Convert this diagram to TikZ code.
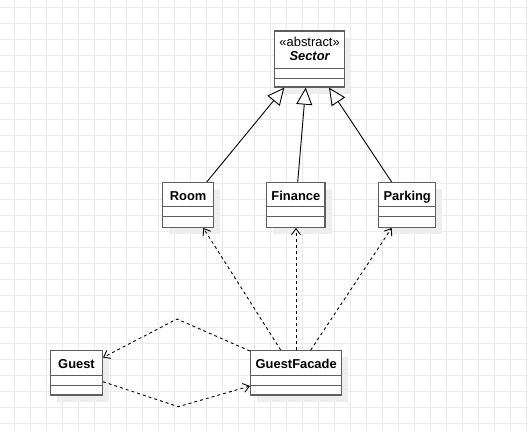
\documentclass[tikz,border=0pt]{standalone}
\usepackage{fontspec}
\setmainfont{Liberation Sans}
\usetikzlibrary{arrows.meta,shadows}
\definecolor{gridc}{HTML}{EBEBEB}
\definecolor{boxc}{HTML}{5E5E5E}
\definecolor{shadc}{HTML}{EEEEEE}
\tikzset{
  classbox/.style={draw=boxc, line width=1.3pt, fill=white, inner sep=0pt,
    drop shadow={shadow xshift=6.5pt, shadow yshift=-6.5pt, fill=shadc, opacity=1}},
  divline/.style={draw=boxc, line width=1.3pt},
  lbl/.style={inner sep=0pt, font=\fontsize{12.9}{15}\selectfont},
  blbl/.style={inner sep=0pt, font=\fontsize{12.9}{15}\selectfont\bfseries},
  inh/.style={draw=black, line width=0.9pt, -{Triangle[length=17pt,width=16pt,fill=white,line width=0.9pt]}},
  dep/.style={draw=black, line width=0.9pt, dash pattern=on 3pt off 3pt, -{Straight Barb[length=6pt,width=9pt,line width=0.9pt]}},
  gridline/.style={draw=gridc, line width=1pt}
}
\begin{document}
\begin{tikzpicture}[x=1pt,y=-1pt]
\useasboundingbox (0,0) rectangle (528,431);
\fill[white] (0,0) rectangle (528,431);
\foreach \gx in {14,30,...,526} \draw[gridline] (\gx,0) -- (\gx,431);
\foreach \gy in {7,23,...,423} \draw[gridline] (0,\gy) -- (528,\gy);

% Sector
\node[classbox, minimum width=70.2pt, minimum height=56pt] (sector) at (309.6,59) {};
\draw[divline] ([yshift=-38pt]sector.north west) -- ([yshift=-38pt]sector.north east);
\draw[divline] ([yshift=-48pt]sector.north west) -- ([yshift=-48pt]sector.north east);
\node[lbl, anchor=base] (sectorst) at (309.6,46.7) {«abstract»};
\node[inner sep=0pt, font=\fontsize{12.9}{15}\selectfont\bfseries\itshape, anchor=base] (sectort) at (309.6,60.6) {Sector};

% Room
\node[classbox, minimum width=51.2pt, minimum height=44.6pt] (room) at (188.1,205) {};
\draw[divline] ([yshift=-24.7pt]room.north west) -- ([yshift=-24.7pt]room.north east);
\draw[divline] ([yshift=-34.7pt]room.north west) -- ([yshift=-34.7pt]room.north east);
\node[blbl, anchor=base] (roomt) at (188.1,200) {Room};

% Finance
\node[classbox, minimum width=58.3pt, minimum height=44.6pt] (finance) at (295.85,205) {};
\draw[divline] ([yshift=-24.7pt]finance.north west) -- ([yshift=-24.7pt]finance.north east);
\draw[divline] ([yshift=-34.7pt]finance.north west) -- ([yshift=-34.7pt]finance.north east);
\node[blbl, anchor=base] (financet) at (295.85,200) {Finance};

% Parking
\node[classbox, minimum width=57pt, minimum height=44.6pt] (parking) at (407.2,205) {};
\draw[divline] ([yshift=-24.7pt]parking.north west) -- ([yshift=-24.7pt]parking.north east);
\draw[divline] ([yshift=-34.7pt]parking.north west) -- ([yshift=-34.7pt]parking.north east);
\node[blbl, anchor=base] (parkingt) at (407.2,200) {Parking};

% Guest
\node[classbox, minimum width=51.6pt, minimum height=44.3pt] (guest) at (76.5,372.85) {};
\draw[divline] ([yshift=-25.2pt]guest.north west) -- ([yshift=-25.2pt]guest.north east);
\draw[divline] ([yshift=-35.2pt]guest.north west) -- ([yshift=-35.2pt]guest.north east);
\node[blbl, anchor=base] (guestt) at (76.5,368.4) {Guest};

% GuestFacade
\node[classbox, minimum width=91pt, minimum height=44.3pt] (facade) at (296.2,372.85) {};
\draw[divline] ([yshift=-25.2pt]facade.north west) -- ([yshift=-25.2pt]facade.north east);
\draw[divline] ([yshift=-35.2pt]facade.north west) -- ([yshift=-35.2pt]facade.north east);
\node[blbl, anchor=base] (facadet) at (296.2,368.4) {GuestFacade};

% inheritance
\draw[inh] ([xshift=18.6pt]room.north) -- ([xshift=-25.3pt]sector.south);
\draw[inh] ([xshift=1.85pt]finance.north) -- ([xshift=-3.9pt]sector.south);
\draw[inh] ([xshift=-15.5pt]parking.north) -- ([xshift=19.4pt]sector.south);

% dependencies
\draw[dep] ([xshift=-15.5pt]facade.north) -- ([xshift=15.2pt]room.south);
\draw[dep] ([xshift=-0.2pt]facade.north) -- ([xshift=0.15pt]finance.south);
\draw[dep] ([xshift=14.5pt]facade.north) -- ([xshift=-15.5pt]parking.south);

\coordinate (wpa) at (177,319);
\coordinate (wpb) at (178.3,406.7);
\draw[dep] ([yshift=-1pt]facade.north west) -- (wpa) -- ([yshift=15.35pt]guest.east);
\draw[dep] ([yshift=-8.85pt]guest.east) -- (wpb) -- ([yshift=-13.15pt]facade.west);
\end{tikzpicture}
\end{document}
